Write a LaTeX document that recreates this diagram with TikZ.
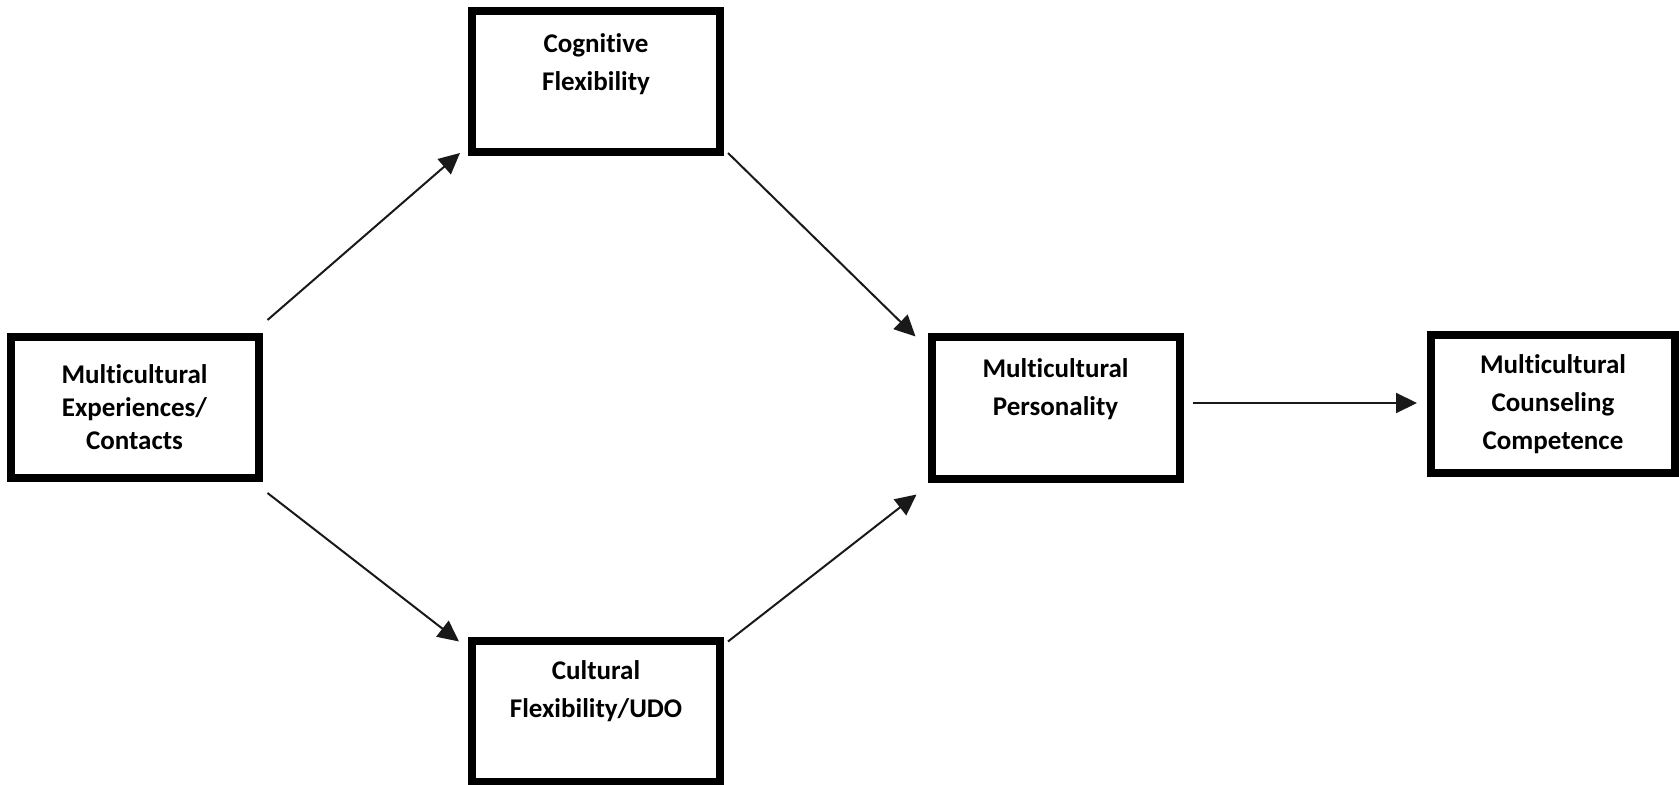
\documentclass[tikz,border=0pt]{standalone}
\usepackage{fontspec}
\setmainfont{Carlito}[Ligatures=NoCommon]
\usetikzlibrary{arrows.meta,calc}

\begin{document}
\begin{tikzpicture}[
  x=0.5pt, y=-0.5pt,
  box/.style={draw=black, line width=4pt, fill=white, outer sep=0pt,
              minimum width=124pt, minimum height=70.5pt, inner sep=0pt},
  lbl/.style={font=\fontsize{13.5}{19}\selectfont\bfseries, align=center, inner sep=0pt},
  link/.style={draw=black!90, line width=1pt, -{Triangle[length=10.5pt,width=10pt]}}
]
\useasboundingbox (0,0) rectangle (1679,785);

% boxes
\node[box] (exp) at (134.5,407.5) {};
\node[box] (cog) at (596,81.5) {};
\node[box] (cul) at (596,711) {};
\node[box] (per) at (1055.5,408) {};
\node[box, minimum width=122pt, minimum height=69pt] (cou) at (1553,404) {};

% labels
\node[lbl, font=\fontsize{13.5}{16.5}\selectfont\bfseries] (expT) at (exp.center)
  {Multicultural\\Experiences/\\Contacts};
\node[lbl] (cogT) at ($(cog.north)+(0,53)$) {Cognitive\\Flexibility};
\node[lbl] (culT) at ($(cul.north)+(0,51)$) {Cultural\\Flexibility/UDO};
\node[lbl] (perT) at ($(per.north)+(0,52)$) {Multicultural\\Personality};
\node[lbl] (couT) at (cou.center) {Multicultural\\Counseling\\Competence};

% connector end points
\coordinate (a1s) at ($(exp.north east)+(9,-17)$);
\coordinate (a1e) at ($(cog.south west)+(-12,1)$);
\coordinate (a2s) at ($(cog.south east)+(8,1)$);
\coordinate (a2e) at ($(per.north west)+(-16,-1)$);
\coordinate (a3s) at ($(exp.south east)+(9,15)$);
\coordinate (a3e) at ($(cul.north west)+(-13,1)$);
\coordinate (a4s) at ($(cul.north east)+(8,1)$);
\coordinate (a4e) at ($(per.south west)+(-15,16)$);
\coordinate (a5s) at ($(per.east)+(13,-5)$);
\coordinate (a5e) at ($(cou.west)+(-14,-1)$);

% connectors
\draw[link] (a1s) -- (a1e);
\draw[link] (a2s) -- (a2e);
\draw[link] (a3s) -- (a3e);
\draw[link] (a4s) -- (a4e);
\draw[link] (a5s) -- (a5e);
\end{tikzpicture}
\end{document}
